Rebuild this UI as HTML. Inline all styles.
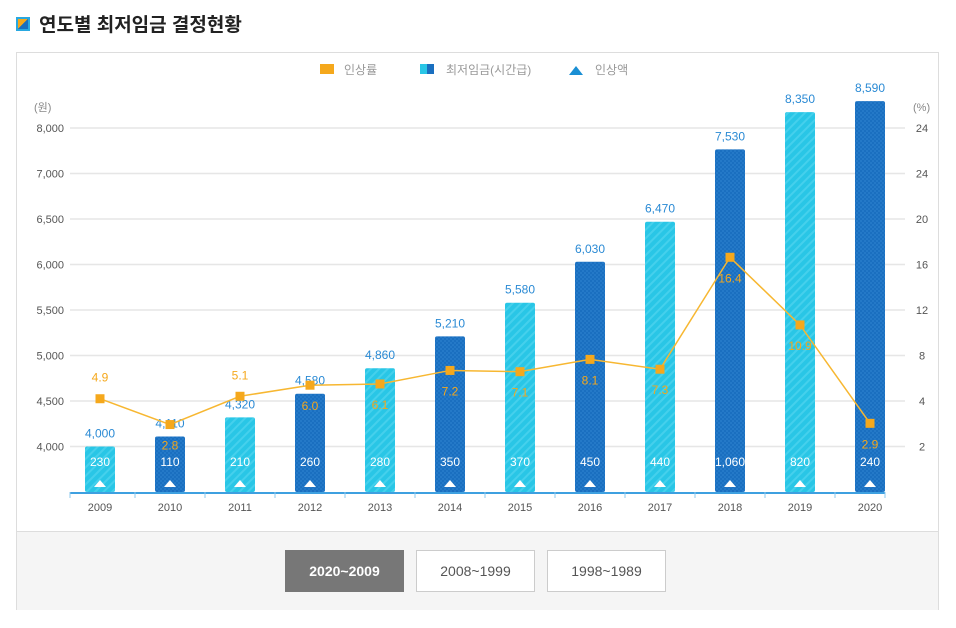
<!DOCTYPE html>
<html><head><meta charset="utf-8"><style>
body{margin:0;width:956px;height:628px;background:#fff;font-family:"Liberation Sans","Noto Sans CJK KR",sans-serif;overflow:hidden;position:relative}
.title{position:absolute;left:16px;top:10px;font-size:19px;font-weight:bold;color:#222;display:flex;align-items:center}
.ticon{width:14px;height:14px;border:2px solid #29a8e0;margin-right:9px;position:relative;background:linear-gradient(135deg,#f5a81c 50%,#1a6fc0 50%);box-sizing:border-box}
.panel{position:absolute;left:16px;top:52px;width:923px;height:558px;border:1px solid #ddd;box-sizing:border-box}
.bottom{position:absolute;left:17px;top:531px;width:921px;height:78px;background:#f5f5f5;border-top:1px solid #ddd}
.btn{position:absolute;top:18px;width:119px;height:42px;box-sizing:border-box;border:1px solid #ccc;background:#fff;color:#555;font-size:14px;text-align:center;line-height:40px}
.btn.on{background:#777;color:#fff;border-color:#777;font-weight:bold}
svg{position:absolute;left:0;top:0}
</style></head><body>
<div class="title"><span class="ticon"></span>연도별 최저임금 결정현황</div>
<div class="panel"></div>
<div class="bottom">
<div class="btn on" style="left:268px">2020~2009</div>
<div class="btn" style="left:399px">2008~1999</div>
<div class="btn" style="left:530px">1998~1989</div>
</div>
<svg id="chart" width="956" height="628">
<defs>
<pattern id="pl" width="6" height="6" patternUnits="userSpaceOnUse" patternTransform="rotate(45)"><rect width="6" height="6" fill="#29c6e6"/><rect width="2" height="6" fill="#45d0ec"/></pattern>
<pattern id="pd" width="4" height="4" patternUnits="userSpaceOnUse"><rect width="4" height="4" fill="#1a6fc0"/><rect width="2" height="2" fill="#2479c8"/><rect x="2" y="2" width="2" height="2" fill="#2479c8"/></pattern>
</defs>
</svg>
<script>
const years=["2009","2010","2011","2012","2013","2014","2015","2016","2017","2018","2019","2020"];
const wages=[4000,4110,4320,4580,4860,5210,5580,6030,6470,7530,8350,8590];
const raises=[230,110,210,260,280,350,370,450,440,1060,820,240];
const rates=[4.9,2.8,5.1,6.0,6.1,7.2,7.1,8.1,7.3,16.4,10.9,2.9];
const leftTicks=[3500,4000,4500,5000,5500,6000,6500,7000,8000];
const leftLabels=["","4,000","4,500","5,000","5,500","6,000","6,500","7,000","8,000"];
const rightLabels=["","2","4","8","12","16","20","24","24"];
const svg=document.getElementById('chart');const NS="http://www.w3.org/2000/svg";
const y0=492,step=45.5;
function piece(ticks,v){for(let i=0;i<ticks.length-1;i++){if(v<=ticks[i+1]||i==ticks.length-2){return y0-(i+(v-ticks[i])/(ticks[i+1]-ticks[i]))*step;}}}
const yL=v=>piece(leftTicks,v);
const yR=v=>459-v*12.3;
const xC=i=>100+i*70;
function el(t,a,txt){const e=document.createElementNS(NS,t);for(const k in a)e.setAttribute(k,a[k]);if(txt!=null)e.textContent=txt;svg.appendChild(e);return e;}
let e;
e=el('rect',{x:320,y:64,width:14,height:10,fill:'#f5a81c'});
e=el('text',{x:344,y:74,'font-size':12,fill:'#999'},'인상률');
e=el('rect',{x:420,y:64,width:7,height:10,fill:'#29c6e6'});
e=el('rect',{x:427,y:64,width:7,height:10,fill:'#1a6fc0'});
e=el('text',{x:446,y:74,'font-size':12,fill:'#999'},'최저임금(시간급)');
e=el('path',{d:'M569 75 L576 66 L583 75 Z',fill:'#1a8fd4'});
e=el('text',{x:595,y:74,'font-size':12,fill:'#999'},'인상액');
e=el('text',{x:34,y:111,'font-size':11,fill:'#888'},'(원)');
e=el('text',{x:913,y:111,'font-size':11,fill:'#888'},'(%)');
leftTicks.forEach((t,i)=>{if(i==0)return;const y=yL(t);
 e=el('line',{x1:70,x2:905,y1:y,y2:y,stroke:'#e6e6e6','stroke-width':1.5});
 e=el('text',{x:64,y:y+4,'font-size':11,fill:'#555','text-anchor':'end'},leftLabels[i]);
 e=el('text',{x:922,y:y+4,'font-size':11,fill:'#555','text-anchor':'middle'},rightLabels[i]);
});
years.forEach((yr,i)=>{const x=xC(i),top=yL(wages[i]);
 e=el('rect',{x:x-15,y:top,width:30,height:y0-top,rx:2,fill:i%2?'url(#pd)':'url(#pl)'});
 e=el('text',{x:x,y:top-9,'font-size':12,fill:'#2a8ad4','text-anchor':'middle'},wages[i].toLocaleString('en-US'));
 e=el('text',{x:x,y:466,'font-size':12,fill:'#fff','text-anchor':'middle'},raises[i].toLocaleString('en-US'));
 e=el('path',{d:`M${x-6} 487 L${x} 480 L${x+6} 487 Z`,fill:'#fff'});
 e=el('text',{x:x,y:511,'font-size':11,fill:'#555','text-anchor':'middle'},yr);
});
e=el('line',{x1:70,x2:885,y1:y0+1,y2:y0+1,stroke:'#3ea0e0','stroke-width':2});
for(let i=0;i<=years.length;i++){const x=i==0?70:(i==years.length?885:xC(i)-35);
 e=el('line',{x1:x,x2:x,y1:y0,y2:y0+6,stroke:'#8cc8ee','stroke-width':1});}
const pts=rates.map((r,i)=>xC(i)+','+yR(r)).join(' ');
e=el('polyline',{points:pts,fill:'none',stroke:'#f7b731','stroke-width':1.5});
rates.forEach((r,i)=>{const x=xC(i),y=yR(r);
 e=el('rect',{x:x-4.5,y:y-4.5,width:9,height:9,fill:'#f5a81c'});
 const ly=(i==0||i==2)?y-17:y+25;
 e=el('text',{x:x,y:ly,'font-size':12,fill:'#f5a81c','text-anchor':'middle'},r.toFixed(1));
});
</script>
</body></html>
